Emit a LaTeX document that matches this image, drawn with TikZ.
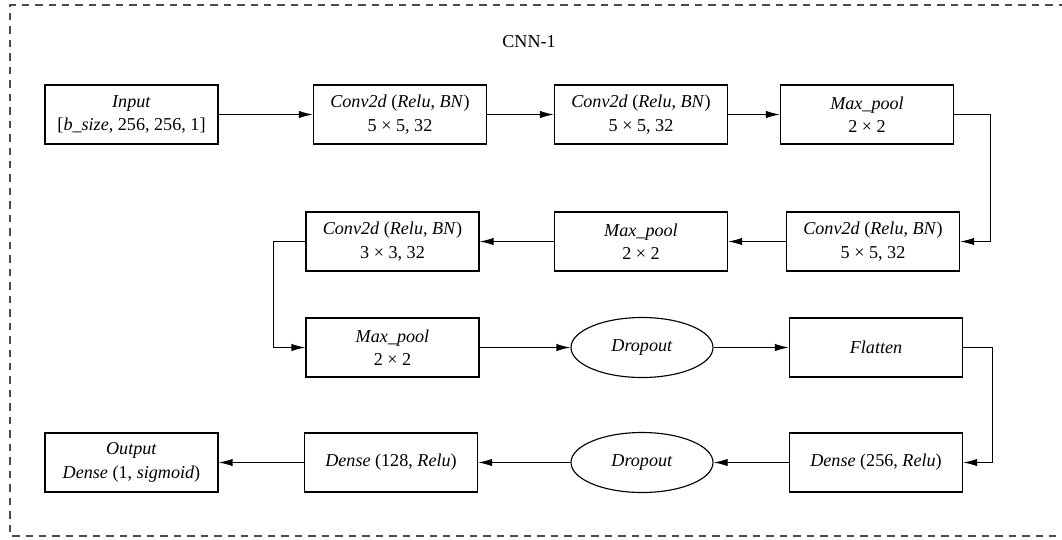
\documentclass[tikz,border=0pt]{standalone}
\usepackage{fontspec}
\setmainfont{Liberation Serif}
\usetikzlibrary{arrows.meta,shapes.geometric}
\begin{document}
\begin{tikzpicture}[x=0.75pt,y=-0.75pt,
  every node/.style={font=\fontsize{13.6}{17.5}\selectfont, align=center, inner sep=0pt},
  layer/.style={draw, line width=0.85pt, minimum width=129.75pt, minimum height=44.25pt},
  drop/.style={draw, ellipse, line width=0.85pt, minimum width=106.5pt, minimum height=45pt},
  flow/.style={line width=0.85pt, -{Latex[length=10.5pt,width=5.5pt]}},
  frame/.style={draw=black!70, line width=0.8pt, dash pattern=on 5.6pt off 4.5pt}
]
\useasboundingbox (0,0) rectangle (1062,539);
% outer dashed frame, open on the right
\draw[frame] (1066,5) -- (10,5) -- (10,536) -- (1066,536);
\node (title) at (529,42) {CNN-1};

% first row
\node[layer] (in)  at (131.5,114.5) {\textit{Input}\\{[}\textit{b\_size}, 256, 256, 1{]}};
\node[layer] (c1)  at (400,114.5) {\textit{Conv2d} (\textit{Relu}, \textit{BN})\\5 × 5, 32};
\node[layer] (c2)  at (641,114.5) {\textit{Conv2d} (\textit{Relu}, \textit{BN})\\5 × 5, 32};
\node[layer] (p1)  at (867,114.5) {\textit{Max\_pool}\\2 × 2};

% second row
\node[layer] (c4)  at (873,241.5) {\textit{Conv2d} (\textit{Relu}, \textit{BN})\\5 × 5, 32};
\node[layer] (p2)  at (641,241.5) {\textit{Max\_pool}\\2 × 2};
\node[layer] (c3)  at (392.5,241.5) {\textit{Conv2d} (\textit{Relu}, \textit{BN})\\3 × 3, 32};

% third row
\node[layer] (p3)  at (392.5,347.5) {\textit{Max\_pool}\\2 × 2};
\node[drop]  (d1)  at (642,347.5) {\textit{Dropout}};
\node[layer] (fl)  at (876,347.5) {\textit{Flatten}};

% fourth row
\node[layer] (dn2) at (876,462.5) {\textit{Dense} (256, \textit{Relu})};
\node[drop]  (d2)  at (642,462.5) {\textit{Dropout}};
\node[layer] (dn1) at (391,462.5) {\textit{Dense} (128, \textit{Relu})};
\node[layer] (out) at (131.5,462.5) {\textit{Output}\\\textit{Dense} (1, \textit{sigmoid})};

% connections
\draw[flow] (in) -- (c1);
\draw[flow] (c1) -- (c2);
\draw[flow] (c2) -- (p1);
\draw[flow] (p1.east) -- ++(36,0) |- (c4.east);
\draw[flow] (c4) -- (p2);
\draw[flow] (p2) -- (c3);
\draw[flow] (c3.west) -- ++(-32,0) |- (p3.west);
\draw[flow] (p3) -- (d1);
\draw[flow] (d1) -- (fl);
\draw[flow] (fl.east) -- ++(29,0) |- (dn2.east);
\draw[flow] (dn2) -- (d2);
\draw[flow] (d2) -- (dn1);
\draw[flow] (dn1) -- (out);
\end{tikzpicture}
\end{document}
